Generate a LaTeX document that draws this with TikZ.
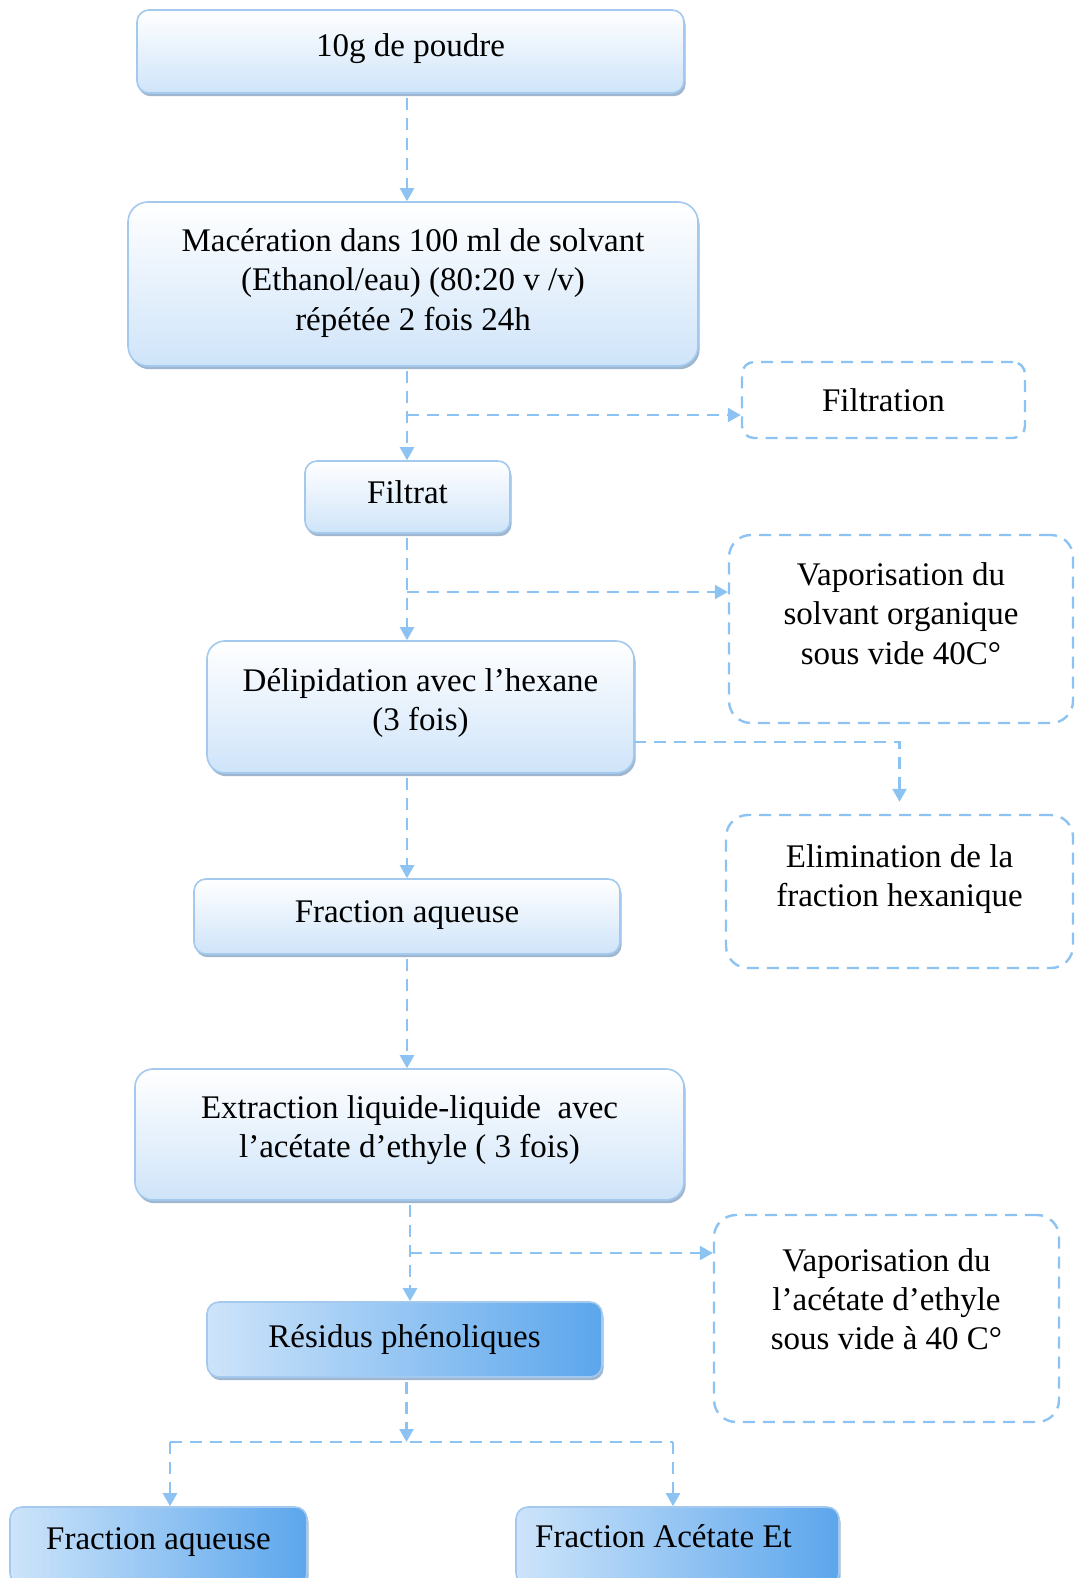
\documentclass[tikz,border=0pt]{standalone}
\usepackage{fontspec}
\setmainfont{Liberation Serif}
\usetikzlibrary{arrows.meta, positioning, shadows}
\definecolor{flowblue}{RGB}{141,195,242}
\definecolor{boxline}{RGB}{163,201,238}
\definecolor{boxfill}{RGB}{207,228,249}
\definecolor{deepblue}{RGB}{92,166,236}
\definecolor{paleblue}{RGB}{205,228,250}
\definecolor{shadowblue}{RGB}{120,150,185}

\begin{document}
\begin{tikzpicture}[
                x = 0.5pt, y = -0.5pt, % one unit = one pixel of the sheet
                > = {Triangle[width=7pt, length=6.5pt]}, % arrow head style
                font = \fontsize{16.5}{19.6}\selectfont
                ]
                \tikzstyle{procbox}=[
                    draw = boxline,
                    line width = 0.8pt,
                    rounded corners = 6pt,
                    top color = white,
                    bottom color = boxfill,
                    drop shadow = {shadow xshift=0.8pt, shadow yshift=-1.6pt,
                                   fill=shadowblue, opacity=0.7},
                    align = center,
                    inner sep = 0pt,
                ]
                \tikzstyle{darkbox}=[
                    procbox,
                    left color = paleblue,
                    middle color = paleblue!70!white,
                    right color = deepblue,
                ]
                \tikzstyle{notebox}=[
                    draw = flowblue,
                    line width = 1.2pt,
                    dash pattern = on 6pt off 4pt,
                    rounded corners = 11pt,
                    align = center,
                    inner sep = 0pt,
                ]
                \tikzstyle{flowline}=[
                    draw = flowblue,
                    line width = 1.2pt,
                    dash pattern = on 6pt off 4pt,
                ]
                \tikzstyle{flow}=[flowline, ->]

                \useasboundingbox (0,0) rectangle (1083,1578);

                % main column
                \node[procbox, minimum width=273.5pt, minimum height=41.5pt] (poudre) at (410.5,51.5) {10g de poudre\\[-13pt]~};
                \node[procbox, rounded corners=10pt, minimum width=285pt, minimum height=82pt] (mac) at (413,284)
                    {Macération dans 100 ml de solvant\\(Ethanol/eau) (80:20 v /v)\\répétée 2 fois 24h\\[-15pt]~};
                \node[procbox, minimum width=102.5pt, minimum height=36pt] (filtrat) at (407.5,497) {Filtrat\\[-15pt]~};
                \node[procbox, rounded corners=9pt, minimum width=213.5pt, minimum height=66pt] (delip) at (420.5,707)
                    {Délipidation avec l’hexane\\(3 fois)\\[-12pt]~};
                \node[procbox, minimum width=213pt, minimum height=37.5pt] (aq1) at (407,916.5) {Fraction aqueuse\\[-15pt]~};
                \node[procbox, rounded corners=9pt, minimum width=274.5pt, minimum height=65.5pt] (extr) at (409.5,1134.5)
                    {Extraction liquide-liquide\ \ avec\\l’acétate d’ethyle ( 3 fois)\\[-12pt]~};
                \node[darkbox, minimum width=197.5pt, minimum height=37.5pt] (res) at (404.5,1339.5) {Résidus phénoliques};
                \node[darkbox, minimum width=148.5pt, minimum height=39pt] (aq2) at (158.5,1546) {Fraction aqueuse\\[-12pt]~};
                \node[darkbox, minimum width=161.5pt, minimum height=39pt] (acet) at (677.5,1546)
                    {Fraction Acétate Et\hspace*{14pt}\\[-10pt]~};

                % side steps
                \node[notebox, rounded corners=6pt, minimum width=141.5pt, minimum height=38pt] (filtration) at (883.5,400) {Filtration};
                \node[notebox, minimum width=172pt, minimum height=94pt] (vapo1) at (901,629)
                    {Vaporisation du\\solvant organique\\sous vide 40C°\\[-4pt]~};
                \node[notebox, minimum width=173.5pt, minimum height=76.5pt] (elim) at (899.5,891.5)
                    {Elimination de la\\fraction hexanique\\[-4pt]~};
                \node[notebox, minimum width=172.5pt, minimum height=103.5pt] (vapo2) at (886.5,1318.5)
                    {Vaporisation du\\l’acétate d’ethyle\\sous vide à 40 C°\\~};

                % connectors
                \coordinate (trunk) at (407,0);
                \coordinate (trunk2) at (410,0);
                \coordinate (b1) at (407,415);
                \coordinate (b2) at (407,592);
                \coordinate (b3) at (634,742);
                \coordinate (b5) at (410,1253);
                \coordinate (split) at (406.5,1442);
                \coordinate (jl) at (170,1442);
                \coordinate (jr) at (673,1442);

                \draw[flow, shorten <=2pt] (poudre.south -| trunk) -- (mac.north -| trunk);
                \draw[flow, shorten <=2pt] (mac.south -| trunk) -- (filtrat.north -| trunk);
                \draw[flow] (b1) -- (b1 -| filtration.west);
                \draw[flow, shorten <=2pt] (filtrat.south -| trunk) -- (delip.north -| trunk);
                \draw[flow] (b2) -- (b2 -| vapo1.west);
                \draw[flow, shorten >=6pt] (b3) -| (elim.north);
                \draw[flow, shorten <=2pt] (delip.south -| trunk) -- (aq1.north -| trunk);
                \draw[flow, shorten <=2pt] (aq1.south -| trunk) -- (extr.north -| trunk);
                \draw[flow, shorten <=2pt] (extr.south -| trunk2) -- (res.north -| trunk2);
                \draw[flow] (b5) -- (b5 -| vapo2.west);
                \draw[flow, shorten <=2pt] (res.south -| split) -- (split);
                \draw[flowline] (jl) -- (jr);
                \draw[flow] (jl) -- (aq2.north -| jl);
                \draw[flow] (jr) -- (acet.north -| jr);
\end{tikzpicture}
\end{document}
